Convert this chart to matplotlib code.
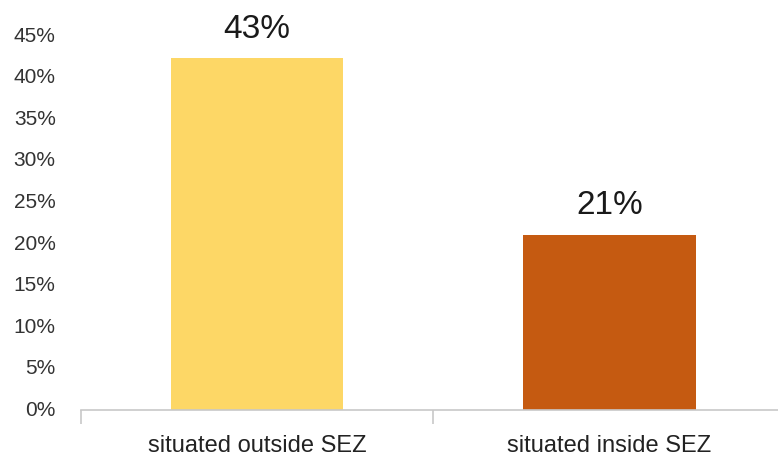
import matplotlib
matplotlib.use("Agg")
import matplotlib.pyplot as plt
from matplotlib.ticker import FixedLocator, FuncFormatter
from matplotlib.transforms import ScaledTranslation

categories = ["situated outside SEZ", "situated inside SEZ"]
values = [42.4, 21.1]
value_labels = ["43%", "21%"]
bar_colors = ["#FDD766", "#C55A11"]
yticks = [0, 5, 10, 15, 20, 25, 30, 35, 40, 45]

plt.rcParams['font.family'] = ['Liberation Sans', 'DejaVu Sans']

fig = plt.figure(figsize=(7.78, 4.60), dpi=100)
ax = fig.add_axes([0.1037, 0.1065, 0.906, 0.812])

x = list(range(len(categories)))
bars = ax.bar(x, values, width=0.49, color=bar_colors, zorder=2)

for xi, v, lab in zip(x, values, value_labels):
    ax.annotate(lab, (xi, v), xytext=(0, 15.5), textcoords='offset points',
                ha='center', va='baseline', fontsize=24, color='#1a1a1a')

ax.set_xlim(-0.5, 1.5)
ax.set_ylim(0, 45)
ax.set_yticks(yticks)
ax.yaxis.set_major_formatter(FuncFormatter(lambda v, p: f"{int(v)}%"))
ax.tick_params(axis='y', length=0, pad=18, labelsize=15, labelcolor='#333333')

ax.set_xticks(x)
ax.set_xticklabels(categories)
ax.tick_params(axis='x', which='major', length=0, pad=17, labelsize=17, labelcolor='#222222')
ax.xaxis.set_minor_locator(FixedLocator([-0.5, 0.5, 1.5]))
ax.tick_params(axis='x', which='minor', length=10, width=1.2, color='#C8C8C8', direction='out')

shift = ScaledTranslation(0, 3 / 100, fig.dpi_scale_trans)
for lbl in ax.get_yticklabels():
    lbl.set_transform(lbl.get_transform() + shift)

for s in ['top', 'right', 'left']:
    ax.spines[s].set_visible(False)
ax.spines['bottom'].set_color('#C8C8C8')
ax.spines['bottom'].set_linewidth(1.2)

fig.savefig("out.png", dpi=100)
